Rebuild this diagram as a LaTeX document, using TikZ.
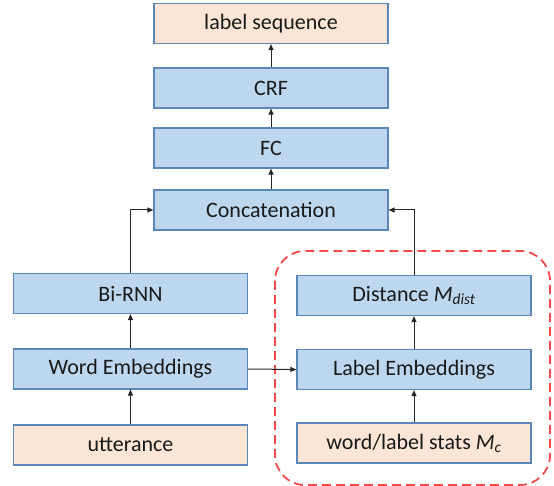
\documentclass[tikz,border=0pt]{standalone}
\usepackage{fontspec}
\setmainfont{Carlito}
\usetikzlibrary{arrows.meta}
\definecolor{bfill}{HTML}{BDD7EE}
\definecolor{bdraw}{HTML}{5A86B8}
\definecolor{pfill}{HTML}{FBE5D6}
\definecolor{dred}{HTML}{F54848}
\tikzset{
  box/.style={draw=bdraw, line width=1.2pt, fill=bfill, minimum width=234pt, minimum height=40pt, inner sep=0pt,
    font=\fontsize{22}{26}\selectfont, text=black!90},
  pbox/.style={box, fill=pfill},
  arr/.style={-{Triangle[length=6pt,width=5pt]}, line width=1pt, draw=black!85}
}
\begin{document}
\begin{tikzpicture}[x=1pt,y=1pt]
\useasboundingbox (0,0) rectangle (554,-486);
\draw[dred, line width=1.8pt, dash pattern=on 9pt off 5pt, rounded corners=30pt] (275,-251) rectangle (550,-485);
\node[pbox] (seq) at (271,-23.5) {label sequence};
\node[box] (crf) at (271,-88) {CRF};
\node[box] (fc) at (271,-148) {FC};
\node[box] (concat) at (271,-210) {Concatenation};
\node[box] (birnn) at (130.5,-293.5) {Bi-RNN};
\node[box] (wemb) at (130.5,-369) {Word Embeddings};
\node[pbox] (utt) at (130.5,-445) {utterance};
\node[box] (dist) at (414,-295.5) {Distance \textit{M}\textsubscript{\textit{dist}}};
\node[box] (lemb) at (414,-369.5) {Label Embeddings};
\node[pbox] (stats) at (414,-443) {word/label stats \textit{M}\textsubscript{\textit{c}}};
\draw[arr] (crf) -- (seq);
\draw[arr] (fc) -- (crf);
\draw[arr] (concat) -- (fc);
\draw[arr] (birnn.north) |- (concat.west);
\draw[arr] (dist.north) |- (concat.east);
\draw[arr] (wemb) -- (birnn);
\draw[arr] (utt) -- (wemb);
\draw[arr] (wemb.east) -- (lemb.west);
\draw[arr] (lemb) -- (dist);
\draw[arr] (stats) -- (lemb);
\end{tikzpicture}
\end{document}
